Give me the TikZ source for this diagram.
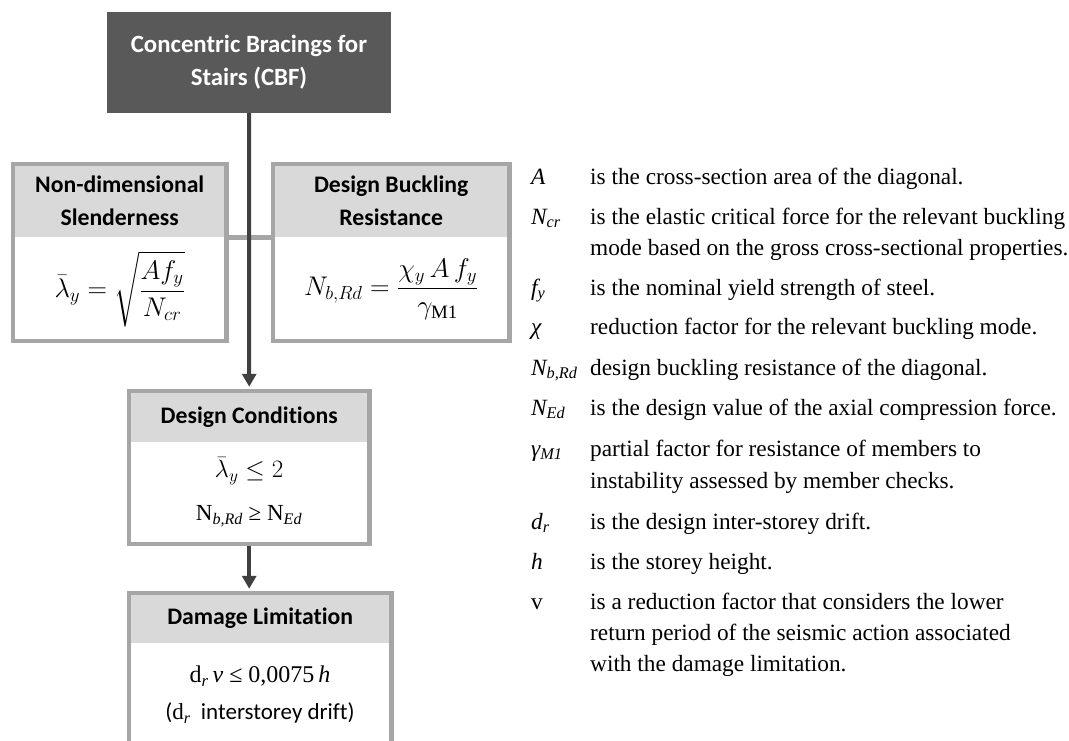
\RequirePackage{fix-cm}
\documentclass[tikz,border=0pt]{standalone}
\usepackage{amsmath}
\usepackage{fontspec}
\setmainfont{Liberation Serif}
\newfontfamily\calibri[Ligatures=NoCommon]{Carlito}
\usetikzlibrary{arrows.meta, positioning, fit}
\definecolor{topGray}{HTML}{595959}
\definecolor{frameGray}{HTML}{A6A6A6}
\definecolor{headGray}{HTML}{D9D9D9}
\definecolor{lineDark}{HTML}{404040}

\tikzset{
  headcell/.style={fill=headGray, inner sep=0pt, align=center, font=\calibri\bfseries\fontsize{23.7}{33}\selectfont},
  bodycell/.style={fill=white, inner sep=0pt, font=\fontsize{27}{30}\selectfont},
  framebox/.style={draw=frameGray, line width=4.5pt, inner sep=0pt},
  condtxt/.style={inner sep=0pt, font=\fontsize{23}{28}\selectfont},
  legsym/.style={anchor=base west, inner sep=0pt, font=\fontsize{23.3}{31.5}\selectfont\itshape},
  legtxt/.style={anchor=base west, inner sep=0pt, font=\fontsize{23.3}{31.5}\selectfont},
  flow/.style={draw=lineDark, line width=4pt, -{Triangle[width=14pt,length=13pt]}},
}

\begin{document}
\begin{tikzpicture}[x=1pt, y=-1pt]
  \useasboundingbox (0,0) rectangle (1069,740);
  \clip (0,0) rectangle (1069,740);

  % top box
  \node[fill=topGray, text=white, align=center, inner sep=0pt, minimum width=284pt, minimum height=101pt,
        font=\calibri\bfseries\fontsize{24.8}{33}\selectfont] (cbf) at (249,62.5) {Concentric Bracings for\\Stairs (CBF)};

  % slenderness
  \node[headcell, minimum width=213pt, minimum height=73pt, anchor=north west] (slH) at (13,164) {Non-dimensional\\Slenderness};
  \node[bodycell, minimum width=213pt, minimum height=103pt, anchor=north] (slB) at (slH.south) {$\bar{\lambda}_y = \sqrt{\dfrac{Af_y}{N_{cr}}}$};
  \node[framebox, fit=(slH)(slB)] (sl) {};

  % buckling resistance
  \node[headcell, minimum width=236pt, minimum height=73pt, anchor=north west] (brH) at (273,164) {Design Buckling\\Resistance};
  \node[bodycell, minimum width=236pt, minimum height=103pt, anchor=north] (brB) at (brH.south) {$N_{b,Rd} = \dfrac{\chi_y\,A\,f_y}{\gamma_{\mathrm{M1}}}$};
  \node[framebox, fit=(brH)(brB)] (br) {};

  % design conditions
  \node[headcell, minimum width=240pt, minimum height=51pt, anchor=north west] (dcH) at (129,391) {Design Conditions};
  \node[bodycell, minimum width=240pt, minimum height=101pt, anchor=north] (dcB) at (dcH.south) {};
  \node[framebox, fit=(dcH)(dcB)] (dc) {};
  \node[condtxt, font=\fontsize{25}{28}\selectfont] (dcA) at (249,471) {$\bar{\lambda}_y \leq 2$};
  \node[condtxt] (dcN) at (249,516) {N\textsubscript{\itshape b,Rd} ≥ N\textsubscript{\itshape Ed}};

  % damage limitation
  \node[headcell, minimum width=262pt, minimum height=50pt, anchor=north west] (dlH) at (129,593) {Damage Limitation};
  \node[bodycell, minimum width=262pt, minimum height=120pt, anchor=north] (dlB) at (dlH.south) {};
  \node[framebox, fit=(dlH)(dlB)] (dl) {};
  \node[condtxt, font=\fontsize{24}{28}\selectfont] (dlA) at (260,676) {d\textsubscript{\itshape r}\,{\itshape ν} ≤ 0,0075\,{\itshape h}};
  \node[condtxt, font=\calibri\fontsize{23}{26}\selectfont] (dlN) at (260,713) {(\textrm{d\textsubscript{\itshape r}}\ \ interstorey drift)};

  % connectors
  \draw[draw=frameGray, line width=4.5pt] (sl.east |- slH.south) -- (br.west |- brH.south);
  \draw[flow, shorten >=2pt] (cbf.south) -- (dc.north);
  \draw[flow, shorten >=2pt] (dc.south) -- (dc.south |- dl.north);

  % legend
  \node[legsym] (sA) at (531,184) {A};
  \node[legtxt] (tA) at (590,184) {is the cross-section area of the diagonal.};
  \node[legsym] (sNcr) at (531,224) {N\textsubscript{cr}};
  \node[legtxt] (tNcr) at (590,224) {is the elastic critical force for the relevant buckling};
  \node[legtxt] (tNcrB) at (590,255) {mode based on the gross cross-sectional properties.};
  \node[legsym] (sfy) at (531,295) {f\textsubscript{y}};
  \node[legtxt] (tfy) at (590,295) {is the nominal yield strength of steel.};
  \node[legsym] (schi) at (531,334) {χ};
  \node[legtxt] (tchi) at (590,334) {reduction factor for the relevant buckling mode.};
  \node[legsym] (sNb) at (531,375) {N\textsubscript{b,Rd}};
  \node[legtxt] (tNb) at (590,375) {design buckling resistance of the diagonal.};
  \node[legsym] (sNEd) at (531,415) {N\textsubscript{Ed}};
  \node[legtxt] (tNEd) at (590,415) {is the design value of the axial compression force.};
  \node[legsym] (sgam) at (531,456) {γ\textsubscript{M1}};
  \node[legtxt] (tgam) at (590,456) {partial factor for resistance of members to};
  \node[legtxt] (tgamB) at (590,488) {instability assessed by member checks.};
  \node[legsym] (sdr) at (531,529) {d\textsubscript{r}};
  \node[legtxt] (tdr) at (590,529) {is the design inter-storey drift.};
  \node[legsym] (sh) at (531,569) {h};
  \node[legtxt] (th) at (590,569) {is the storey height.};
  \node[legsym, font=\fontsize{23.3}{31.5}\selectfont] (sv) at (531,609) {v};
  \node[legtxt] (tv) at (590,609) {is a reduction factor that considers the lower};
  \node[legtxt] (tvB) at (590,640) {return period of the seismic action associated};
  \node[legtxt] (tvC) at (590,671) {with the damage limitation.};
\end{tikzpicture}
\end{document}
